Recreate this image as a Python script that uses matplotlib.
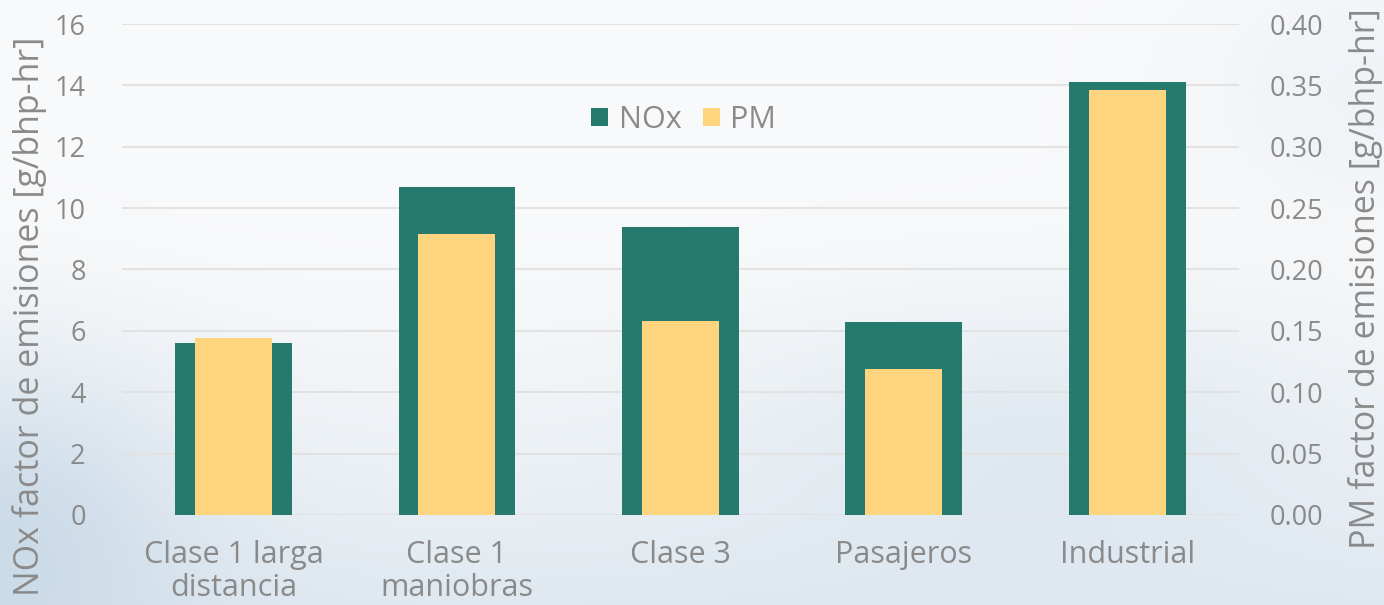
import matplotlib
matplotlib.use("Agg")
import matplotlib.pyplot as plt
import numpy as np

categories = ["Clase 1 larga\ndistancia", "Clase 1\nmaniobras", "Clase 3", "Pasajeros", "Industrial"]
nox_values = [5.6, 10.7, 9.4, 6.3, 14.1]
pm_values = [0.144, 0.229, 0.158, 0.119, 0.346]
left_ticks = [0, 2, 4, 6, 8, 10, 12, 14, 16]
right_ticks = [0.00, 0.05, 0.10, 0.15, 0.20, 0.25, 0.30, 0.35, 0.40]

NOX_COLOR = "#267A6D"
PM_COLOR = "#FED57E"
TEXT = "#8A8A8A"
GRID = "#E2E2E2"

plt.rcParams['font.family'] = ['Open Sans', 'DejaVu Sans']

fig = plt.figure(figsize=(13.84, 6.05), dpi=100)

# background gradient
bg = fig.add_axes([0, 0, 1, 1], zorder=-10)
H, W = 200, 460
yy, xx = np.mgrid[0:1:H*1j, 0:1:W*1j]  # yy=0 top
base = np.array([0.975, 0.978, 0.982])
blue = np.array([0.80, 0.86, 0.91])
t = np.clip((yy - 0.35) / 0.65, 0, 1) ** 1.5 * 0.55
t += np.exp(-((xx - 0.0) ** 2 / 0.02 + (yy - 0.85) ** 2 / 0.08)) * 0.6
t += np.exp(-((xx - 0.75) ** 2 / 0.05 + (yy - 0.7) ** 2 / 0.05)) * 0.3
t += np.exp(-((xx - 1.0) ** 2 / 0.02 + (yy - 0.15) ** 2 / 0.05)) * 0.2
t = np.clip(t, 0, 1)
img = base[None, None, :] * (1 - t[..., None]) + blue[None, None, :] * t[..., None]
bg.imshow(img, aspect='auto', extent=[0, 1, 0, 1], interpolation='bilinear')
bg.axis('off')

ax = fig.add_axes([0.088, 0.1488, 0.8072, 0.8115])
ax.set_facecolor('none')
ax2 = ax.twinx()

x = np.arange(len(categories))
b1 = ax.bar(x, nox_values, width=0.522, color=NOX_COLOR, zorder=3, label="NOx")
b2 = ax2.bar(x, pm_values, width=0.345, color=PM_COLOR, zorder=3, label="PM")

ax.set_ylim(0, 16)
ax2.set_ylim(0, 0.40)
ax.set_xlim(-0.5, len(categories) - 0.5)
ax.set_yticks(left_ticks)
ax.set_yticklabels([str(v) for v in left_ticks])
ax2.set_yticks(right_ticks)
ax2.set_yticklabels([f"{v:.2f}" for v in right_ticks])
ax.set_xticks(x)
ax.set_xticklabels(categories, fontsize=22, color=TEXT, linespacing=1.15)

ax.grid(axis='y', color=GRID, linewidth=1.5, zorder=0)
ax.set_axisbelow(True)
for a in (ax, ax2):
    for s in a.spines.values():
        s.set_visible(False)
ax.tick_params(axis='y', length=0, pad=26, labelsize=19.5, labelcolor=TEXT)
ax2.tick_params(axis='y', length=0, pad=22, labelsize=19.5, labelcolor=TEXT)
ax.tick_params(axis='x', length=0, pad=18, labelcolor=TEXT)

ax.set_ylabel("NOx factor de emisiones [g/bhp-hr]", fontsize=24.5, color=TEXT)
ax2.set_ylabel("PM factor de emisiones [g/bhp-hr]", fontsize=24.5, color=TEXT)
ax.yaxis.set_label_coords(-0.067, 0.405)
ax2.yaxis.set_label_coords(1.098, 0.481)

leg = ax2.legend([b1, b2], ["NOx", "PM"], loc='center', bbox_to_anchor=(0.503, 0.805),
                 ncol=2, frameon=False, fontsize=22, handlelength=0.55, handleheight=0.55,
                 handletextpad=0.35, columnspacing=0.7)
for t_ in leg.get_texts():
    t_.set_color(TEXT)

fig.savefig("out.png", dpi=100)
